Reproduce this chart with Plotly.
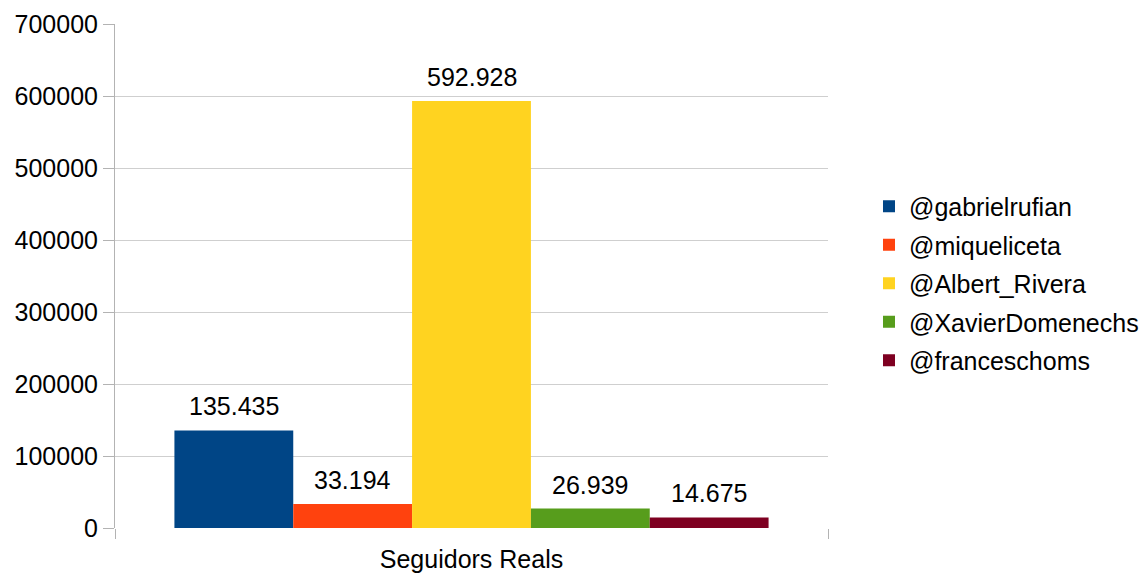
import plotly.graph_objects as go

category = ["Seguidors Reals"]
accounts = ["@gabrielrufian", "@miqueliceta", "@Albert_Rivera", "@XavierDomenechs", "@franceschoms"]
followers = [135435, 33194, 592928, 26939, 14675]
colors = ["#004586", "#ff420e", "#ffd320", "#579d1c", "#7e0021"]

FONT = "Liberation Sans, Arial, sans-serif"
SIZE = 25
BARGAP = 1 / 6

fig = go.Figure()
for name, value, color in zip(accounts, followers, colors):
    fig.add_trace(go.Bar(
        x=category,
        y=[value],
        name=name,
        legendgroup=name,
        marker=dict(color=color, line=dict(width=0)),
    ))

# value labels above each bar, placed at the centre of its slot in the group
n = len(followers)
slot = (1 - BARGAP) / n
annotations = []
for i, value in enumerate(followers):
    annotations.append(dict(
        x=-0.5 * (1 - BARGAP) + (i + 0.5) * slot,
        y=value,
        xref="x", yref="y",
        text=f"{value:,}".replace(",", "."),
        showarrow=False,
        yanchor="bottom",
        yshift=8,
        font=dict(family=FONT, size=SIZE, color="#000000"),
    ))

fig.update_layout(
    width=1140,
    height=576,
    margin=dict(l=115, r=312, t=24, b=48, autoexpand=False),
    paper_bgcolor="#ffffff",
    plot_bgcolor="#ffffff",
    barmode="group",
    bargap=BARGAP,
    bargroupgap=0,
    font=dict(family=FONT, size=SIZE, color="#000000"),
    annotations=annotations,
    showlegend=True,
    legend=dict(
        x=1.0575, xanchor="left",
        y=0.485, yanchor="middle",
        font=dict(family=FONT, size=SIZE, color="#000000"),
        tracegroupgap=3,
        bgcolor="rgba(0,0,0,0)",
    ),
    xaxis=dict(
        type="category",
        range=[-0.5, 0.5],
        tickson="boundaries",
        ticks="outside",
        ticklen=10,
        tickcolor="#b3b3b3",
        showgrid=True,
        gridcolor="#b3b3b3",
        showline=False,
        zeroline=False,
        ticklabelstandoff=14,
        tickfont=dict(family=FONT, size=SIZE, color="#000000"),
    ),
    yaxis=dict(
        range=[0, 700000],
        dtick=100000,
        tickformat="d",
        ticks="outside",
        ticklen=11,
        tickcolor="#b3b3b3",
        showgrid=True,
        gridcolor="#cfcfcf",
        showline=True,
        linecolor="#b3b3b3",
        zeroline=False,
        tickfont=dict(family=FONT, size=SIZE, color="#000000"),
    ),
)

fig.write_html("out.html")
